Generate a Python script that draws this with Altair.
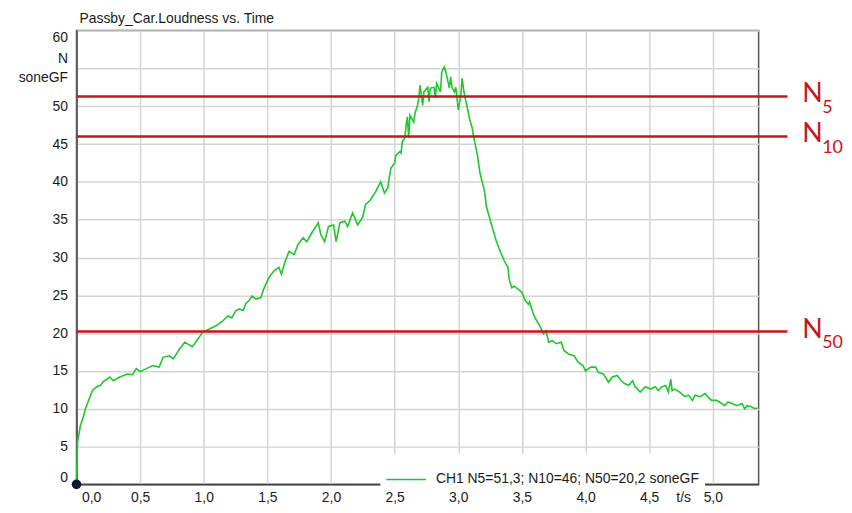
import altair as alt
import pandas as pd

title_text = "Passby_Car.Loudness vs. Time"
series_name = "CH1 N5=51,3; N10=46; N50=20,2 soneGF"

t_values = [
    0.0, 0.008, 0.031, 0.057, 0.07, 0.095, 0.12, 0.135, 0.16, 0.19, 0.21, 0.24, 0.26, 0.29,
    0.34, 0.40, 0.44, 0.47, 0.50, 0.55, 0.60, 0.65, 0.68, 0.73, 0.76, 0.81, 0.85,
    0.91, 0.97, 0.99, 1.04, 1.10, 1.15, 1.19, 1.22, 1.25, 1.28, 1.31, 1.33,
    1.355, 1.38, 1.41, 1.45, 1.47, 1.51, 1.55, 1.59, 1.61, 1.64, 1.67, 1.71, 1.74,
    1.78, 1.81, 1.85, 1.90, 1.92, 1.95, 1.98, 2.02, 2.04, 2.07, 2.11, 2.13, 2.17,
    2.21, 2.25, 2.27, 2.31, 2.35, 2.39, 2.42,
    2.445, 2.47, 2.50, 2.51, 2.54, 2.55, 2.56, 2.58, 2.59, 2.60, 2.61, 2.62, 2.65,
    2.66, 2.68, 2.69, 2.70, 2.72, 2.73, 2.76, 2.77, 2.78, 2.81, 2.82, 2.83, 2.86,
    2.87, 2.89, 2.90, 2.93, 2.94, 2.95, 2.97, 2.98, 2.99, 3.00, 3.02, 3.03, 3.04,
    3.05, 3.07, 3.09, 3.11, 3.12, 3.15, 3.17, 3.20, 3.21, 3.22, 3.26,
    3.30, 3.33, 3.36, 3.39, 3.40, 3.42, 3.44, 3.47, 3.50, 3.52, 3.55, 3.56, 3.59,
    3.61, 3.64, 3.67, 3.69, 3.71, 3.74, 3.77, 3.81, 3.83, 3.87, 3.91, 3.94, 3.98,
    4.00, 4.04, 4.08, 4.10, 4.14, 4.18, 4.21, 4.25, 4.28, 4.31, 4.34, 4.37, 4.39,
    4.43, 4.47, 4.51, 4.55, 4.57, 4.60, 4.63, 4.65, 4.67, 4.68, 4.70, 4.74, 4.78,
    4.81, 4.84, 4.86, 4.90, 4.94, 4.96, 4.99, 5.03, 5.07, 5.09, 5.12, 5.15, 5.19,
    5.23, 5.25, 5.27, 5.30, 5.33, 5.35,
]
n_values = [
    0.0, 5.6, 7.8, 9.1, 10.0, 11.1, 12.2, 12.6, 12.9, 13.1, 13.6, 13.9, 14.2, 13.7,
    14.2, 14.6, 14.5, 15.3, 14.9, 15.3, 15.7, 15.5, 16.8, 17.0, 16.6, 17.9, 18.8,
    18.2, 19.6, 20.1, 20.5, 21.0, 21.6, 22.3, 22.0, 22.9, 23.2, 23.0, 23.9,
    24.3, 24.9, 24.5, 24.7, 25.8, 27.3, 28.2, 28.7, 27.8, 29.5, 30.8, 30.4, 31.7,
    32.6, 32.1, 33.3, 34.6, 33.0, 32.1, 34.1, 34.3, 32.1, 34.6, 34.8, 34.1, 35.9,
    34.3, 35.4, 37.0, 37.6, 38.7, 40.0, 38.5,
    39.2, 41.8, 42.5, 43.5, 44.0, 43.8, 45.3, 45.8, 47.5, 48.6, 45.8, 48.8, 47.9,
    49.1, 50.1, 51.2, 52.8, 50.1, 51.9, 52.5, 50.6, 52.4, 52.5, 51.1, 53.0, 51.9,
    54.5, 55.2, 54.7, 52.4, 53.9, 52.5, 51.9, 52.5, 51.1, 49.5, 51.4, 53.7, 52.4,
    51.4, 49.9, 48.2, 47.1, 46.0, 43.6, 41.2, 39.2, 38.3, 36.8, 34.4,
    32.1, 30.8, 29.6, 28.7, 27.1, 26.0, 26.2, 25.8, 25.4, 24.5, 23.8, 24.1, 22.5,
    21.8, 21.0, 19.9, 20.3, 18.8, 19.0, 18.6, 18.8, 17.7, 17.2, 17.0, 16.2, 15.7,
    15.0, 15.5, 15.5, 14.8, 14.6, 13.5, 14.2, 14.4, 13.7, 13.3, 13.1, 13.7, 12.9,
    12.2, 12.9, 12.6, 12.9, 12.4, 12.9, 13.1, 12.2, 13.9, 12.4, 12.6, 12.2, 11.6,
    11.8, 11.1, 11.8, 11.6, 12.0, 11.6, 11.1, 11.1, 10.7, 10.4, 10.9, 10.7, 10.4,
    10.7, 10.0, 10.4, 10.3, 10.0, 10.1,
]

threshold_subscripts = ["5", "10", "50"]
threshold_values = [51.3, 46.0, 20.2]

x_ticks = [0.0, 0.5, 1.0, 1.5, 2.0, 2.5, 3.0, 3.5, 4.0, 4.5, 5.0]
y_ticks = [0, 5, 10, 15, 20, 25, 30, 35, 40, 45, 50, 55, 60]

W, H = 687, 457
AX_FONT = "Liberation Sans"
RED = "#c8141c"

df = pd.DataFrame({"t": t_values, "N": n_values, "series": series_name})
thr = pd.DataFrame({"sub": threshold_subscripts, "N": threshold_values, "lab": "N"})
origin = pd.DataFrame({"t": t_values[:1], "N": n_values[:1]})

x_scale = alt.Scale(domain=[0, 5.36], nice=False, zero=False)
y_scale = alt.Scale(domain=[0, 60], nice=False)

x_axis = alt.Axis(
    values=x_ticks,
    labelExpr="replace(format(datum.value, '.1f'), '.', ',')",
    title="t/s", titleX=611, titleY=6, titleBaseline="top", titleAlign="center",
    titleFontWeight="normal", titleFontSize=14, titleFont=AX_FONT, titleColor="#1a1a1a",
    labelFlush=True, labelFlushOffset=-5, ticks=False, labelPadding=6,
    labelOverlap=False, tickCount=11,
)
y_axis = alt.Axis(
    values=y_ticks, tickCount=13,
    labelExpr="datum.value == 55 ? '' : datum.label",
    title=["N", "soneGF"], titleAngle=0, titleAlign="right", titleBaseline="top",
    titleX=-9, titleY=21, titleLineHeight=19,
    titleFontWeight="normal", titleFontSize=14, titleFont=AX_FONT, titleColor="#1a1a1a",
    labelFlush=True, ticks=False, labelPadding=9, labelOverlap=False,
)

X = alt.X("t:Q", scale=x_scale, axis=x_axis)
Y = alt.Y("N:Q", scale=y_scale, axis=y_axis)

line = alt.Chart(df).mark_line(strokeWidth=1.6).encode(
    x=X,
    y=Y,
    color=alt.Color(
        "series:N",
        scale=alt.Scale(range=["#1ec82c"]),
        legend=alt.Legend(
            title=None, orient="none", legendX=306, legendY=426,
            fillColor="white", padding=5, symbolType="stroke", symbolSize=1600,
            symbolStrokeWidth=1.5, labelFontSize=14, labelFont=AX_FONT,
            labelColor="#1a1a1a", labelOffset=9, labelLimit=600,
        ),
    ),
)

rules = alt.Chart(thr).mark_rule(color=RED, strokeWidth=2.5).encode(
    y=Y,
    x=alt.value(0),
    x2=alt.value(716),
)

n_text = alt.Chart(thr).mark_text(
    align="left", baseline="middle", fontSize=27, font="Lato", color=RED, dy=-2
).encode(y=Y, x=alt.value(731), text="lab:N")

sub_text = alt.Chart(thr).mark_text(
    align="left", baseline="alphabetic", fontSize=18, font="Lato", color=RED, dy=17
).encode(y=Y, x=alt.value(751), text="sub:N")

dot = alt.Chart(origin).mark_circle(size=95, color="#0b1a33", opacity=1).encode(
    x=X, y=Y
)

chart = (
    alt.layer(line, rules, n_text, sub_text, dot)
    .properties(
        width=W, height=H,
        title=alt.TitleParams(
            title_text, anchor="start", frame="group", fontSize=14,
            fontWeight="normal", font=AX_FONT, color="#1a1a1a",
            dx=3, dy=13, offset=4, baseline="bottom",
        ),
        autosize=alt.AutoSizeParams(type="none"),
        padding={"left": 69, "top": 21, "right": 86, "bottom": 18},
    )
    .configure_view(stroke="#555555", strokeWidth=1.5)
    .configure_axis(
        labelFont=AX_FONT, labelFontSize=14, labelColor="#1a1a1a",
        gridColor="#d4d4d4", gridWidth=1.5,
        domainColor="#404040", domainWidth=1.5,
    )
)

chart.save("out.html", embed_options={"renderer": "svg", "actions": False})
